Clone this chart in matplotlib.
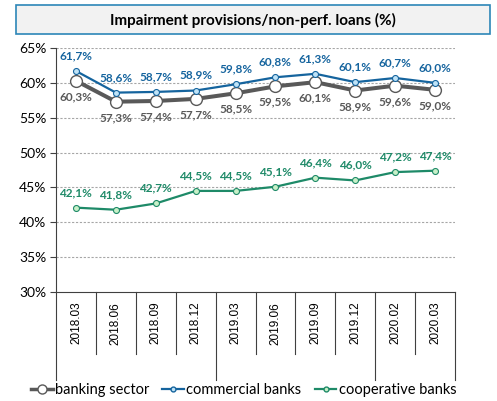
import matplotlib.pyplot as plt
from matplotlib.patches import Rectangle
from matplotlib.lines import Line2D

periods = ['2018.03', '2018.06', '2018.09', '2018.12', '2019.03',
           '2019.06', '2019.09', '2019.12', '2020.02', '2020.03']
banking_sector = [60.3, 57.3, 57.4, 57.7, 58.5, 59.5, 60.1, 58.9, 59.6, 59.0]
commercial = [61.7, 58.6, 58.7, 58.9, 59.8, 60.8, 61.3, 60.1, 60.7, 60.0]
cooperative = [42.1, 41.8, 42.7, 44.5, 44.5, 45.1, 46.4, 46.0, 47.2, 47.4]
y_ticks = [30, 35, 40, 45, 50, 55, 60, 65]

GRAY = '#595959'
BLUE = '#15649E'
GREEN = '#1E8A68'
LABEL_FONT = ['Lato', 'DejaVu Sans']


def fmt(v):
    return f"{v:.1f}%".replace('.', ',')


fig = plt.figure(figsize=(4.97, 4.01), dpi=100)
ax = fig.add_axes([56 / 497, 1 - 292 / 401, 399 / 497, 244 / 401])

x = list(range(len(periods)))

ax.plot(x, banking_sector, color=GRAY, lw=2.9, marker='o', ms=8.5,
        mfc='white', mec=GRAY, mew=1.0, zorder=3)
ax.plot(x, commercial, color=BLUE, lw=1.6, marker='o', ms=4.3,
        mfc='#BFE3F7', mec=BLUE, mew=0.8, zorder=4)
ax.plot(x, cooperative, color=GREEN, lw=1.6, marker='o', ms=4.3,
        mfc='#C8F0C8', mec=GREEN, mew=0.8, zorder=4)

for i in x:
    ax.annotate(fmt(commercial[i]), (i, commercial[i]), xytext=(0, 7),
                textcoords='offset points', ha='center', va='bottom',
                fontsize=8.5, fontweight='bold', color=BLUE, family=LABEL_FONT)
    ax.annotate(fmt(banking_sector[i]), (i, banking_sector[i]), xytext=(0, -7.5),
                textcoords='offset points', ha='center', va='top',
                fontsize=8.5, fontweight='bold', color=GRAY, family=LABEL_FONT)
    ax.annotate(fmt(cooperative[i]), (i, cooperative[i]), xytext=(0, 7),
                textcoords='offset points', ha='center', va='bottom',
                fontsize=8.5, fontweight='bold', color=GREEN, family=LABEL_FONT)

ax.set_xlim(-0.5, len(periods) - 0.5)
ax.set_ylim(30, 65)
ax.set_yticks(y_ticks)
ax.set_yticklabels([f"{t}%" for t in y_ticks], family=LABEL_FONT, fontsize=10)
ax.tick_params(axis='y', length=4, width=0.8, color='#404040', pad=3)
ax.set_xticks([])
for t in y_ticks[1:]:
    ax.axhline(t, color='#A6A6A6', lw=0.8, ls=(0, (2, 1.5)), zorder=1)

for side in ['top', 'right']:
    ax.spines[side].set_visible(False)
ax.spines['left'].set_color('#404040')
ax.spines['bottom'].set_color('#404040')

# category labels and separators below the axis
trans = ax.get_xaxis_transform()
for i, p in enumerate(periods):
    ax.text(i, -0.04, p, transform=trans, rotation=90, ha='center', va='top',
            fontsize=8.5, family=['Liberation Sans', 'DejaVu Sans'], color='#000000')
for i in range(len(periods) + 1):
    bottom = -0.361 if i in (0, 4, 8, 10) else -0.254
    ax.plot([i - 0.5, i - 0.5], [0, bottom], transform=trans, color='#404040',
            lw=0.8, clip_on=False)

# title box
fig.patches.append(Rectangle((16 / 497, 1 - 34 / 401), 474 / 497, 29 / 401,
                             transform=fig.transFigure, facecolor='#F2F2F2',
                             edgecolor='#2C86B8', lw=1.2))
fig.text(253 / 497, 1 - 20 / 401, 'Impairment provisions/non-perf. loans (%)',
         ha='center', va='center', fontsize=11, fontweight='bold', family=LABEL_FONT)

handles = [
    Line2D([], [], color=GRAY, lw=2.5, marker='o', ms=6.5, mfc='white', mec=GRAY),
    Line2D([], [], color=BLUE, lw=1.6, marker='o', ms=3.5, mfc='#BFE3F7', mec=BLUE),
    Line2D([], [], color=GREEN, lw=1.6, marker='o', ms=3.5, mfc='#C8F0C8', mec=GREEN),
]
fig.legend(handles, ['banking sector', 'commercial banks', 'cooperative banks'],
           loc='center', bbox_to_anchor=(0.49, 1 - 390 / 401), ncol=3, frameon=False,
           prop={'family': LABEL_FONT, 'size': 10.5}, handlelength=1.5,
           handletextpad=0.15, columnspacing=0.9)

fig.savefig('out.png', dpi=100)
